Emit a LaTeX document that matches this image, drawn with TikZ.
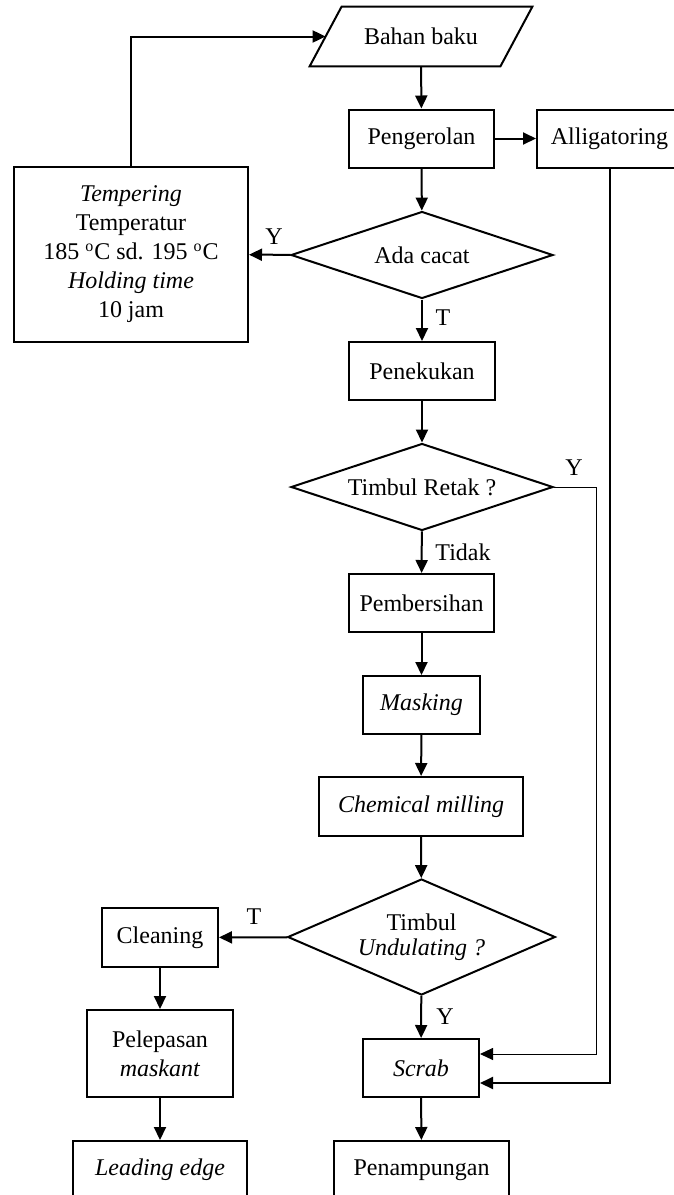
\documentclass[tikz,border=0pt]{standalone}
\usepackage{fontspec}
\setmainfont{Liberation Serif}
\usepackage{tikz}
\usetikzlibrary{shapes.geometric}
\usetikzlibrary{arrows.meta}
\tikzset{
  kotak/.style = {draw, line width=1pt, rectangle, minimum height=29pt, inner sep=1pt, align=center},
  belah/.style = {draw, line width=1pt, diamond, aspect=3, inner sep=0pt, minimum width=131pt, minimum height=43.5pt, align=center},
  panah/.style = {line width=1pt, -{Triangle[length=6.5pt,width=6pt]}},
  tipis/.style = {line width=0.5pt, -{Triangle[length=6.5pt,width=6pt]}}
}

\begin{document}
\begin{tikzpicture}[x=0.5pt, y=-0.5pt, font=\fontsize{12}{14.5}\selectfont]
            \useasboundingbox (0, 0) rectangle (674, 1195);

            \node[minimum width=95pt, minimum height=29.5pt, inner sep=1pt] (bahan) at (421, 36.5) {Bahan baku};
            \draw[line width=1pt, line join=miter] ([xshift=-8pt]bahan.south west) -- ([xshift=8pt]bahan.north west)
                -- ([xshift=8pt]bahan.north east) -- ([xshift=-8pt]bahan.south east) -- cycle;
            \node[kotak, minimum width=72.5pt] (peng) at (421.5, 138.5) {Pengerolan};
            \node[kotak, minimum width=72.5pt] (allig) at (609.5, 138.5) {Alligatoring};
            \node[belah] (cacat) at (422, 255) {Ada cacat};
            \node[kotak, minimum width=117pt, minimum height=87.5pt] (temper) at (131, 254.5)
                {\textit{Tempering}\\Temperatur\\185 \textsuperscript{o}C sd. 195 \textsuperscript{o}C\\\textit{Holding time}\\10 jam};
            \node[kotak, minimum width=73pt] (penek) at (422, 371) {Penekukan};
            \node[belah] (retak) at (422, 487) {Timbul Retak ?};
            \node[kotak, minimum width=72.5pt] (bersih) at (421.5, 603) {Pembersihan};
            \node[kotak, minimum width=58.5pt] (mask) at (421.5, 705) {\textit{Masking}};
            \node[kotak, minimum width=102pt, minimum height=29.5pt] (chem) at (421, 806.5) {\textit{Chemical milling}};
            \node[belah, minimum height=58pt, font=\fontsize{12}{12.5}\selectfont] (undul) at (421.5, 937) {Timbul\\\textit{Undulating ?}};
            \node[kotak, minimum width=58pt, minimum height=29.5pt] (clean) at (160, 937.5) {Cleaning};
            \node[kotak, minimum width=73pt, minimum height=43.5pt] (lepas) at (160, 1053.5) {Pelepasan\\\textit{maskant}};
            \node[kotak, minimum width=87pt] (lead) at (160, 1170) {\textit{Leading edge}};
            \node[kotak, minimum width=58pt] (scrab) at (421, 1068) {\textit{Scrab}};
            \node[kotak, minimum width=87.5pt] (tampung) at (421.5, 1170) {Penampungan};

            \coordinate (belokY) at (596, 487);

            % alur utama
            \draw[panah] (bahan) -- (peng);
            \draw[panah] (peng) -- (allig);
            \draw[panah] (peng) -- (cacat);
            \draw[panah] (cacat) -- (temper);
            \draw[panah] (temper.north) |- (bahan.west);
            \draw[panah] (cacat) -- (penek);
            \draw[panah] (penek) -- (retak);
            \draw[panah] (retak) -- (bersih);
            \draw[panah] (bersih) -- (mask);
            \draw[panah] (mask) -- (chem);
            \draw[panah] (chem) -- (undul);
            \draw[panah] (undul) -- (clean);
            \draw[panah] (undul) -- (scrab);
            \draw[panah] (clean) -- (lepas);
            \draw[panah] (lepas) -- (lead);
            \draw[panah] (scrab) -- (tampung);

            % jalur ke scrab
            \draw[tipis] (retak.east) -- (belokY) |- ([yshift=7pt]scrab.east);
            \draw[panah] (allig.south) |- ([yshift=-7.5pt]scrab.east);

            % label
            \node (ya1) at (274, 237) {Y};
            \node (tdk1) at (443, 318) {T};
            \node (ya2) at (574, 468) {Y};
            \node (tidak) at (463, 552) {Tidak};
            \node (tdk2) at (254, 917) {T};
            \node (ya3) at (445, 1017) {Y};
        \end{tikzpicture}
\end{document}
